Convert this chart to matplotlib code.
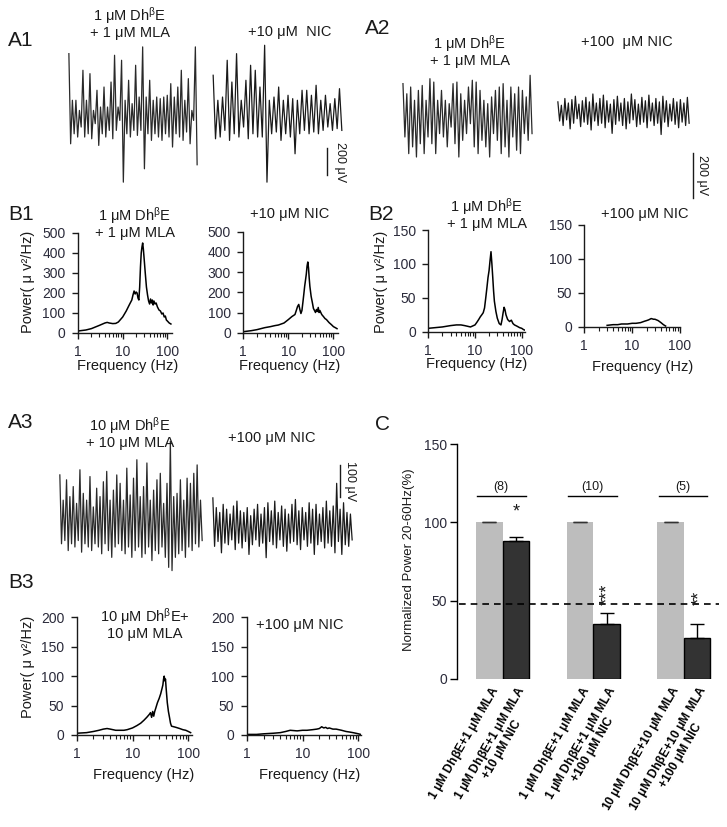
import numpy as np
import matplotlib
matplotlib.use('Agg')
import matplotlib.pyplot as plt
from matplotlib.transforms import blended_transform_factory

plt.rcParams['font.family'] = ['Liberation Sans', 'DejaVu Sans']
plt.rcParams['mathtext.fontset'] = 'custom'
plt.rcParams['mathtext.rm'] = 'Liberation Sans'
plt.rcParams['mathtext.it'] = 'Liberation Sans'
plt.rcParams['mathtext.bf'] = 'Liberation Sans:bold'
plt.rcParams['mathtext.default'] = 'regular'

# ---- field potential traces (uV, peak / trough pairs)
a1_ctrl_pk = [469, 124, 124, 49, 346, 124, 321, 49, 198, 74, 222, 74, 259, 457, 74, 420, 124, 272, 99,
              383, 148, 519, 148, 272, 124, 148, 136, 148, 161, 247, 148, 222, 346, 124, 284, 49, 519]
a1_ctrl_tr = [-198, -124, -148, -74, -148, -124, -161, -49, -210, -124, -148, -99, -161, -99, -25, -482,
              -124, -148, -99, -136, -99, -383, -124, -173, -124, -148, -173, -124, -148, -222, -124,
              -148, -173, -111, -198, -25, -353]
a1_nic_pk = [309, 124, 148, 420, 259, 469, 124, 272, 383, 346, 222, 531, 124, 148, 222, 124, 161, 136,
             124, 198, 198, 161, 235, 124, 161, 99, 136, 210]
a1_nic_tr = [-161, -148, -99, -173, -124, -148, -74, -161, -124, -148, -148, -482, -124, -111, -173,
             -124, -148, -272, -124, -99, -124, -111, -124, -99, -74, -99, -86, -99]

a2_ctrl_pk = [126, 81, 111, 52, 96, 118, 52, 148, 133, 52, 96, 52, 37, 126, 133, 81, 52, 111, 141, 133,
              96, 52, 37, 67, 96, 111, 126, 52, 111, 81, 111, 96, 67, 163]
a2_ctrl_tr = [-111, -185, -155, -200, -141, -185, -111, -141, -185, -96, -111, -155, -67, -141, -200,
              -126, -96, -52, -155, -185, -126, -155, -200, -96, -126, -185, -155, -200, -111, -170,
              -185, -96, -126, -96]
a2_nic_pk = [45, 30, 60, 40, 55, 70, 35, 50, 65, 45, 80, 40, 60, 75, 50, 35, 55, 70, 40, 60, 45, 80, 55,
             35, 65, 50, 75, 40, 60, 45, 70, 50, 35, 60, 45, 55, 40, 65]
a2_nic_tr = [-40, -60, -35, -75, -50, -30, -65, -45, -55, -80, -40, -60, -50, -70, -45, -95, -55, -40,
             -60, -75, -50, -35, -65, -55, -45, -70, -40, -60, -50, -100, -45, -65, -40, -55, -70, -45,
             -60, -50]

a3_ctrl_pk = [161, 83, 146, 94, 125, 73, 177, 104, 83, 156, 62, 120, 94, 140, 172, 83, 114, 161, 135, 83,
              182, 99, 151, 208, 94, 125, 198, 83, 114, 146, 166, 73, 135, 265, 94, 104, 146, 83, 151,
              135, 166, 192, 83]
a3_ctrl_tr = [-52, -42, -73, -52, -62, -42, -78, -52, -62, -73, -52, -62, -83, -52, -73, -94, -62, -52,
              -73, -83, -62, -94, -73, -62, -94, -83, -62, -104, -73, -83, -62, -94, -125, -135, -94,
              -83, -73, -94, -62, -73, -52, -62, -42]
a3_nic_pk = [90, 60, 45, 70, 55, 40, 65, 80, 50, 45, 60, 35, 55, 70, 40, 60, 75, 50, 80, 45, 65, 55, 40,
             70, 85, 50, 60, 45, 75, 55, 70, 40, 60, 80, 50, 65, 135, 55, 75, 45, 40]
a3_nic_tr = [-60, -45, -80, -50, -55, -40, -70, -50, -65, -45, -85, -55, -40, -60, -50, -95, -45, -55,
             -65, -40, -60, -75, -50, -45, -55, -70, -40, -60, -50, -85, -55, -45, -65, -50, -60, -80,
             -45, -85, -55, -60, -40]

# ---- power spectra
b1_ctrl_f = [1, 1.5, 2, 3, 4, 4.5, 5, 6, 7, 8, 10, 12, 14, 16, 17, 18, 19, 20, 21, 22, 23, 24, 25, 26,
             27, 28, 29, 30, 32, 34, 36, 38, 40, 42, 44, 46, 48, 50, 53, 56, 60, 65, 70, 75, 80, 85, 90,
             95, 100, 110, 120]
b1_ctrl_p = [10, 15, 22, 38, 50, 53, 50, 47, 48, 55, 80, 110, 140, 165, 190, 210, 195, 205, 200, 175,
             165, 230, 330, 400, 430, 450, 420, 380, 300, 230, 190, 160, 145, 170, 150, 165, 140, 160,
             145, 150, 130, 115, 110, 95, 100, 80, 85, 65, 60, 50, 45]
b1_nic_f = [1, 1.5, 2, 3, 4, 5, 6, 8, 10, 12, 14, 15, 16, 17, 18, 19, 20, 21, 22, 23, 24, 25, 26, 27,
            28, 29, 30, 32, 34, 36, 38, 40, 42, 44, 46, 48, 50, 55, 60, 65, 70, 80, 90, 100, 110, 120]
b1_nic_p = [5, 10, 15, 25, 30, 35, 38, 48, 65, 80, 90, 110, 130, 140, 115, 95, 110, 150, 190, 230, 260,
            290, 330, 350, 320, 270, 230, 180, 150, 120, 110, 100, 115, 105, 125, 100, 110, 90, 80, 70,
            65, 50, 40, 30, 25, 20]
b2_ctrl_f = [1, 2, 3, 4, 5, 6, 8, 10, 11, 12, 13, 14, 15, 16, 17, 18, 19, 20, 21, 22, 23, 24, 25, 26,
             28, 30, 33, 36, 38, 40, 42, 44, 46, 50, 55, 60, 65, 70, 80, 90, 100, 110, 120]
b2_ctrl_p = [5, 7, 9, 10, 10, 9, 7, 10, 14, 18, 22, 25, 28, 35, 50, 65, 80, 90, 105, 118, 100, 80, 60,
             45, 30, 20, 12, 10, 18, 28, 36, 32, 25, 18, 15, 17, 12, 10, 8, 6, 5, 3, 2]
b2_nic_f = [3, 4, 5, 6, 8, 10, 12, 15, 18, 20, 22, 25, 28, 30, 35, 40, 45, 50]
b2_nic_p = [2, 3, 3, 4, 4, 5, 5, 6, 8, 9, 10, 12, 11, 11, 9, 6, 3, 1]
b3_ctrl_f = [1, 1.5, 2, 2.5, 3, 3.5, 4, 5, 6, 7, 8, 10, 12, 14, 16, 18, 20, 21, 22, 23, 24, 25, 26, 28,
             30, 32, 34, 35, 36, 37, 38, 39, 40, 42, 44, 46, 48, 50, 55, 60, 70, 80, 90, 100, 110]
b3_ctrl_p = [3, 4, 6, 8, 10, 11, 10, 8, 8, 8, 9, 12, 16, 20, 25, 30, 35, 38, 30, 40, 32, 40, 45, 55, 62,
             70, 80, 85, 95, 100, 92, 95, 80, 55, 40, 30, 20, 15, 14, 13, 11, 9, 8, 6, 4]
b3_nic_f = [1, 1.5, 2, 3, 4, 5, 6, 8, 10, 12, 15, 18, 20, 22, 24, 26, 28, 30, 35, 40, 50, 60, 70, 80, 90,
            100, 110]
b3_nic_p = [1, 1, 2, 3, 4, 6, 8, 7, 8, 8, 9, 10, 11, 14, 12, 13, 11, 12, 10, 10, 8, 6, 5, 4, 3, 2, 1]

# ---- panel C
c_labels = ['1 μM Dh$\\beta$E+1 μM MLA', '1 μM Dh$\\beta$E+1 μM MLA\n+10 μM NIC',
            '1 μM Dh$\\beta$E+1 μM MLA', '1 μM Dh$\\beta$E+1 μM MLA\n+100 μM NIC',
            '10 μM Dh$\\beta$E+10 μM MLA', '10 μM Dh$\\beta$E+10 μM MLA\n+100 μM NIC']
c_ctrl = [100, 100, 100]
c_ctrl_err = [0.4, 0.4, 0.4]
c_nic = [88.3, 35.1, 26.4]
c_nic_err = [2.5, 7, 8.6]
c_n = ['(8)', '(10)', '(5)']
c_stars = ['*', '***', '**']

W, H = 727, 827
fig = plt.figure(figsize=(W / 100, H / 100), dpi=100)
ink = '#1a1a1a'
dhbe = 'Dh$^{\\beta}$E'


def box(x0, y0, x1, y1):
    return [x0 / W, 1 - y1 / H, (x1 - x0) / W, (y1 - y0) / H]


def ftext(x, y, s, **kw):
    kw.setdefault('fontsize', 10.5)
    kw.setdefault('ha', 'center')
    kw.setdefault('va', 'center')
    kw.setdefault('color', ink)
    fig.text(x / W, 1 - y / H, s, **kw)


def trace(rect, pk, tr, ylim, color=ink):
    ax = fig.add_axes(box(*rect))
    v = np.column_stack([pk, tr]).ravel()
    ax.plot(np.arange(len(v)), v, color=color, lw=0.9)
    ax.set_xlim(-0.5, len(v) - 0.5)
    ax.set_ylim(*ylim)
    ax.axis('off')
    return ax


def scalebar(ax, xfrac, y0, length, label, tx):
    tr = blended_transform_factory(ax.transAxes, ax.transData)
    ax.plot([xfrac, xfrac], [y0, y0 + length], color=ink, lw=1, transform=tr, clip_on=False)
    ax.text(xfrac + tx, y0 + length / 2, label, transform=tr, rotation=-90, ha='center', va='center',
            fontsize=9, color=ink)


def spectrum(rect, f, p, xmax, ymax, ystep):
    ax = fig.add_axes(box(*rect))
    ax.plot(f, p, color='black', lw=1.1)
    ax.set_xscale('log')
    ax.set_xlim(1, xmax)
    ax.set_ylim(0, ymax)
    ax.set_xticks([1, 10, 100])
    ax.set_xticklabels(['1', '10', '100'])
    ax.set_yticks(np.arange(0, ymax + 1, ystep))
    for s in ['top', 'right']:
        ax.spines[s].set_visible(False)
    for s in ['left', 'bottom']:
        ax.spines[s].set_linewidth(1)
        ax.spines[s].set_color(ink)
    ax.tick_params(which='major', direction='out', length=4, width=1, labelsize=10, pad=5,
                   colors=ink, labelcolor='#2a2a3a')
    ax.tick_params(which='minor', direction='out', length=3, width=0.8, colors=ink)
    return ax


# A1
ax = trace((68, 40, 198, 190), a1_ctrl_pk, a1_ctrl_tr, (-540, 570), '#2a2a2a')
ax = trace((212, 40, 343, 190), a1_nic_pk, a1_nic_tr, (-540, 570))
scalebar(ax, 0.88, -430, 200, '200 μV', 0.1)
ftext(8, 40, 'A1', fontsize=15, ha='left')
ftext(130, 23, '1 μM ' + dhbe + '\n+ 1 μM MLA', linespacing=1.0)
ftext(290, 32, '+10 μM  NIC')

# A2
ax = trace((402, 60, 533, 200), a2_ctrl_pk, a2_ctrl_tr, (-391, 231), '#2a2a2a')
ax = trace((557, 60, 690, 200), a2_nic_pk, a2_nic_tr, (-391, 231))
scalebar(ax, 1.02, -382, 200, '200 μV', 0.07)
ftext(365, 28, 'A2', fontsize=15, ha='left')
ftext(470, 51, '1 μM ' + dhbe + '\n+ 1 μM MLA', linespacing=1.0)
ftext(627, 42, '+100  μM NIC')

# A3
ax = trace((59, 430, 203, 590), a3_ctrl_pk, a3_ctrl_tr, (-195, 300), '#2a2a2a')
ax = trace((212, 430, 353, 590), a3_nic_pk, a3_nic_tr, (-195, 300))
scalebar(ax, 0.91, 93, 100, '100 μV', 0.07)
ftext(8, 423, 'A3', fontsize=15, ha='left')
ftext(130, 433, '10 μM ' + dhbe + '\n+ 10 μM MLA', linespacing=1.0)
ftext(272, 438, '+100 μM NIC')

# B1
spectrum((78, 233, 171.7, 333), b1_ctrl_f, b1_ctrl_p, 125, 500, 100)
spectrum((243.3, 231.7, 337.8, 332.7), b1_nic_f, b1_nic_p, 125, 500, 100)
ftext(8, 215, 'B1', fontsize=15, ha='left')
ftext(135, 223, '1 μM ' + dhbe + '\n+ 1 μM MLA', linespacing=1.0)
ftext(290, 214, '+10 μM NIC')
ftext(28, 282, 'Power( μ v²/Hz)', rotation=90)
ftext(128, 366, 'Frequency (Hz)')
ftext(290, 366, 'Frequency (Hz)')

# B2
spectrum((428.3, 230, 525.4, 331.7), b2_ctrl_f, b2_ctrl_p, 120, 150, 50)
spectrum((584.3, 225, 680, 326.7), b2_nic_f, b2_nic_p, 100, 150, 50)
ftext(368, 215, 'B2', fontsize=15, ha='left')
ftext(487, 214, '1 μM ' + dhbe + '\n+ 1 μM MLA', linespacing=1.0)
ftext(645, 214, '+100 μM NIC')
ftext(381, 282, 'Power( μ v²/Hz)', rotation=90)
ftext(477, 364, 'Frequency (Hz)')
ftext(643, 367, 'Frequency (Hz)')

# B3
spectrum((76.7, 617.3, 191.7, 735), b3_ctrl_f, b3_ctrl_p, 115, 200, 50)
spectrum((246.7, 617.3, 360.7, 735), b3_nic_f, b3_nic_p, 110, 200, 50)
ftext(8, 582, 'B3', fontsize=15, ha='left')
ftext(145, 624, '10 μM ' + dhbe + '+\n10 μM MLA', linespacing=1.0)
ftext(300, 625, '+100 μM NIC')
ftext(28, 667, 'Power( μ v²/Hz)', rotation=90)
ftext(144, 775, 'Frequency (Hz)')
ftext(310, 775, 'Frequency (Hz)')

# C
bw = 26.5
axc = fig.add_axes(box(456.7, 444, 722, 679))
gx = np.arange(3) * 90.7 / bw + (489.3 - 456.7) / bw
axc.bar(gx, c_ctrl, width=1, color='#bdbdbd', yerr=[[0, 0, 0], c_ctrl_err],
        error_kw=dict(ecolor='#333333', capsize=5, elinewidth=1, capthick=1))
axc.bar(gx + 1, c_nic, width=1, color='#333333', edgecolor='black', lw=1,
        yerr=[[0, 0, 0], c_nic_err], error_kw=dict(ecolor='black', capsize=5, elinewidth=1, capthick=1))
axc.set_xlim(0, (722 - 456.7) / bw)
axc.set_ylim(0, 150)
axc.set_yticks([0, 50, 100, 150])
axc.axhline(47.9, xmin=0.01, xmax=0.99, color='black', ls=(0, (4, 3)), lw=1.2)
for i in range(3):
    axc.plot([gx[i] - 0.45, gx[i] + 1.38], [117, 117], color='black', lw=1)
    axc.text(gx[i] + 0.45, 118.5, c_n[i], ha='center', va='bottom', fontsize=9, color=ink)
axc.text(gx[0] + 1, 101, c_stars[0], ha='center', va='bottom', fontsize=13, color=ink)
axc.text(gx[1] + 1.05, 54, c_stars[1], ha='center', va='center', fontsize=13, rotation=90, color=ink)
axc.text(gx[2] + 1.1, 52, c_stars[2], ha='center', va='center', fontsize=13, rotation=90, color=ink)
for s in ['top', 'right', 'bottom']:
    axc.spines[s].set_visible(False)
axc.spines['left'].set_linewidth(1)
axc.tick_params(axis='y', direction='out', length=5, width=1, labelsize=10, pad=2, labelcolor='#2a2a3a')
pos = np.column_stack([gx, gx + 1]).ravel()
axc.set_xticks(pos)
axc.set_xticklabels(c_labels, rotation=60, ha='right', va='top', rotation_mode='anchor',
                    fontsize=8.7, fontweight='bold', multialignment='center', linespacing=1.0)
axc.tick_params(axis='x', length=0, pad=3)
ftext(375, 425, 'C', fontsize=15, ha='left')
ftext(409, 560, 'Normalized Power 20-60Hz(%)', rotation=90, fontsize=9.5)

fig.savefig('out.png', dpi=100)
